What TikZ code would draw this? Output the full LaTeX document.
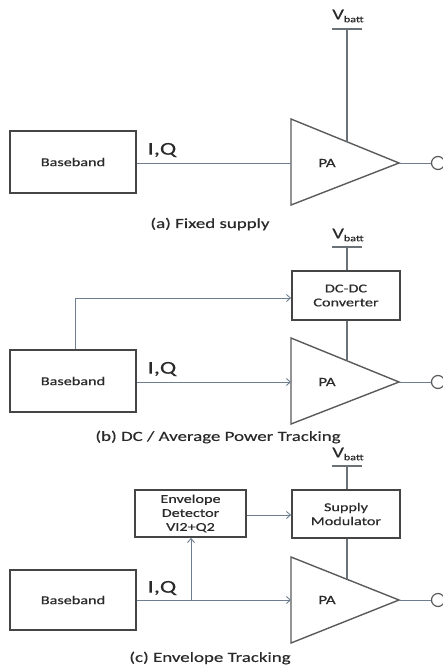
\documentclass[tikz,border=0pt]{standalone}
\usepackage{fontspec}
\setmainfont{Carlito}[FakeStretch=1.35,FakeBold=0.4]
\usetikzlibrary{arrows.meta,calc}
\definecolor{boxc}{HTML}{454545}
\definecolor{linec}{HTML}{6E7E8E}
\definecolor{ampc}{HTML}{5A5A5A}
\definecolor{supc}{HTML}{6A7278}
\definecolor{txtc}{HTML}{2A2A2A}
\tikzset{
  box/.style={draw=boxc, line width=1.8pt, fill=white, inner sep=0pt, align=center, text=txtc, font=\fontsize{12}{14}\selectfont},
  bbtxt/.style={font=\fontsize{12}{14}\selectfont},
  conn/.style={draw=linec, line width=0.9pt},
  arr/.style={conn, -{Straight Barb[length=4pt,width=7pt]}},
  amp/.style={draw=ampc, line width=1.4pt, line join=miter},
  supply/.style={draw=supc, line width=1.4pt},
  lbl/.style={text=txtc, inner sep=0pt},
  iq/.style={lbl, font=\fontsize{18}{20}\selectfont},
  captxt/.style={lbl, font=\fontsize{14}{16}\selectfont},
  palbl/.style={lbl, font=\fontsize{12.5}{14}\selectfont},
  vb/.style={lbl, font=\fontsize{15}{16}\selectfont},
  outc/.style={draw=ampc, line width=1.2pt, fill=white}
}
\newcommand{\vbattlbl}{V\raisebox{-0.4ex}{\fontsize{9}{10}\selectfont batt}}
\begin{document}
\begin{tikzpicture}[x=1pt,y=-1pt]
\useasboundingbox (0,0) rectangle (442,672);

% ---------- (a) Fixed supply ----------
\node[box, minimum width=126pt, minimum height=62pt] (bbA) at (73,162) {Baseband};
\coordinate (paAt) at (291,119);
\coordinate (paAb) at (291,205);
\coordinate (paAo) at (399,163);
\coordinate (paAin) at (291,163);
\draw[amp] (paAt) -- (paAb) -- (paAo) -- cycle;
\node[palbl] (paA) at (327,163) {PA};
\coordinate (paAtop) at ($(paAt)!0.52!(paAo)$);
\node[vb] (vbA) at (348,16) {\vbattlbl};
\coordinate (barAl) at (332,29);
\coordinate (barAr) at (362,29);
\coordinate (barAm) at (347,29);
\draw[supply] (barAl) -- (barAr);
\draw[supply] (barAm) -- (barAm |- paAtop);
\draw[conn] (bbA.east |- paAin) -- (paAin);
\node[iq] (iqA) at (162,150) {I,Q};
\node[outc, circle, minimum size=13pt, inner sep=0pt] (oA) at (438,163) {};
\draw[conn] (paAo) -- (oA.west);
\node[captxt] (capA) at (210,224) {(a) Fixed supply};

% ---------- (b) DC / Average Power Tracking ----------
\node[box, minimum width=126pt, minimum height=62pt] (bbB) at (73,381) {Baseband};
\node[box, minimum width=108pt, minimum height=49pt] (dcB) at (346,295.5) {DC-DC\\Converter};
\coordinate (paBt) at (291,338);
\coordinate (paBb) at (291,424);
\coordinate (paBo) at (399,382);
\coordinate (paBin) at (291,382);
\draw[amp] (paBt) -- (paBb) -- (paBo) -- cycle;
\node[palbl] (paB) at (327,382) {PA};
\coordinate (paBtop) at ($(paBt)!0.52!(paBo)$);
\node[vb] (vbB) at (348,235) {\vbattlbl};
\coordinate (barBl) at (332,247);
\coordinate (barBr) at (362,247);
\coordinate (barBm) at (347,247);
\draw[supply] (barBl) -- (barBr);
\draw[supply] (barBm) -- (barBm |- dcB.north);
\draw[supply] (dcB.south -| barBm) -- (barBm |- paBtop);
\coordinate (bendB) at (75,298);
\draw[arr] (bbB.north -| bendB) -- (bendB) -- (dcB.west |- bendB);
\draw[arr] (bbB.east |- paBin) -- (paBin);
\node[iq] (iqB) at (162,369) {I,Q};
\node[outc, circle, minimum size=13pt, inner sep=0pt] (oB) at (438,382) {};
\draw[conn] (paBo) -- (oB.west);
\node[captxt] (capB) at (218,437) {(b) DC / Average Power Tracking};

% ---------- (c) Envelope Tracking ----------
\node[box, minimum width=126pt, minimum height=60pt] (bbC) at (73,600) {Baseband};
\node[box, minimum width=111pt, minimum height=47pt] (edC) at (190.5,513.5) {Envelope\\Detector\\VI2+Q2};
\node[box, minimum width=108pt, minimum height=48pt] (smC) at (346,514) {Supply\\Modulator};
\coordinate (paCt) at (291,557);
\coordinate (paCb) at (291,643);
\coordinate (paCo) at (399,600);
\coordinate (paCin) at (291,600);
\draw[amp] (paCt) -- (paCb) -- (paCo) -- cycle;
\node[palbl] (paC) at (327,600) {PA};
\coordinate (paCtop) at ($(paCt)!0.52!(paCo)$);
\node[vb] (vbC) at (348,454) {\vbattlbl};
\coordinate (barCl) at (332,466);
\coordinate (barCr) at (362,466);
\coordinate (barCm) at (347,466);
\draw[supply] (barCl) -- (barCr);
\draw[supply] (barCm) -- (barCm |- smC.north);
\draw[supply] (smC.south -| barCm) -- (barCm |- paCtop);
\draw[arr] (edC.east |- 0,515) -- (smC.west |- 0,515);
\draw[arr] (bbC.east |- paCin) -- (paCin);
\coordinate (brC) at (191,600);
\draw[arr] (brC) -- (brC |- edC.south);
\node[iq] (iqC) at (162,588) {I,Q};
\node[outc, circle, minimum size=13pt, inner sep=0pt] (oC) at (438,600) {};
\draw[conn] (paCo) -- (oC.west);
\node[captxt] (capC) at (210,658) {(c) Envelope Tracking};
\end{tikzpicture}
\end{document}
